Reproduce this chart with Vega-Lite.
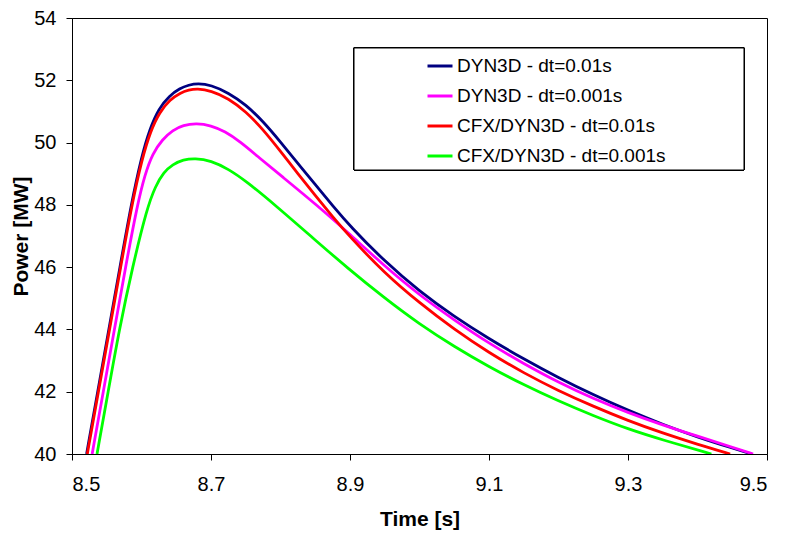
{
  "$schema": "https://vega.github.io/schema/vega-lite/v6.json",
  "width": 695,
  "height": 436,
  "autosize": "none",
  "padding": {"left": 72, "top": 18, "right": 19, "bottom": 82},
  "background": "white",
  "config": {
    "font": "Liberation Sans",
    "view": {"stroke": "black", "strokeWidth": 1},
    "axis": {
      "gridColor": "#404040",
      "gridOpacity": 1,
      "gridWidth": 1,
      "domainColor": "black",
      "tickColor": "black",
      "tickSize": 6,
      "labelColor": "black",
      "labelFont": "Liberation Sans",
      "labelFontSize": 20,
      "titleFont": "Liberation Sans",
      "titleFontSize": 21,
      "titleFontWeight": "bold",
      "titleColor": "black"
    }
  },
  "data": {
    "values": [
      {"series": "DYN3D - dt=0.01s", "t": 8.521, "P": 40},
      {"series": "DYN3D - dt=0.01s", "t": 8.537, "P": 42},
      {"series": "DYN3D - dt=0.01s", "t": 8.553, "P": 44},
      {"series": "DYN3D - dt=0.01s", "t": 8.569, "P": 46},
      {"series": "DYN3D - dt=0.01s", "t": 8.585, "P": 48},
      {"series": "DYN3D - dt=0.01s", "t": 8.6, "P": 49.55},
      {"series": "DYN3D - dt=0.01s", "t": 8.612, "P": 50.45},
      {"series": "DYN3D - dt=0.01s", "t": 8.625, "P": 51.1},
      {"series": "DYN3D - dt=0.01s", "t": 8.64, "P": 51.5},
      {"series": "DYN3D - dt=0.01s", "t": 8.655, "P": 51.74},
      {"series": "DYN3D - dt=0.01s", "t": 8.668, "P": 51.85},
      {"series": "DYN3D - dt=0.01s", "t": 8.681, "P": 51.9},
      {"series": "DYN3D - dt=0.01s", "t": 8.7, "P": 51.85},
      {"series": "DYN3D - dt=0.01s", "t": 8.725, "P": 51.6},
      {"series": "DYN3D - dt=0.01s", "t": 8.75, "P": 51.22},
      {"series": "DYN3D - dt=0.01s", "t": 8.775, "P": 50.68},
      {"series": "DYN3D - dt=0.01s", "t": 8.8, "P": 50.02},
      {"series": "DYN3D - dt=0.01s", "t": 8.825, "P": 49.33},
      {"series": "DYN3D - dt=0.01s", "t": 8.85, "P": 48.65},
      {"series": "DYN3D - dt=0.01s", "t": 8.876, "P": 47.95},
      {"series": "DYN3D - dt=0.01s", "t": 8.9, "P": 47.32},
      {"series": "DYN3D - dt=0.01s", "t": 8.95, "P": 46.18},
      {"series": "DYN3D - dt=0.01s", "t": 9.0, "P": 45.22},
      {"series": "DYN3D - dt=0.01s", "t": 9.05, "P": 44.41},
      {"series": "DYN3D - dt=0.01s", "t": 9.1, "P": 43.7},
      {"series": "DYN3D - dt=0.01s", "t": 9.15, "P": 43.05},
      {"series": "DYN3D - dt=0.01s", "t": 9.2, "P": 42.45},
      {"series": "DYN3D - dt=0.01s", "t": 9.25, "P": 41.9},
      {"series": "DYN3D - dt=0.01s", "t": 9.3, "P": 41.4},
      {"series": "DYN3D - dt=0.01s", "t": 9.35, "P": 40.95},
      {"series": "DYN3D - dt=0.01s", "t": 9.4, "P": 40.54},
      {"series": "DYN3D - dt=0.01s", "t": 9.45, "P": 40.19},
      {"series": "DYN3D - dt=0.01s", "t": 9.478, "P": 40},

      {"series": "DYN3D - dt=0.001s", "t": 8.529, "P": 40},
      {"series": "DYN3D - dt=0.001s", "t": 8.545, "P": 42},
      {"series": "DYN3D - dt=0.001s", "t": 8.561, "P": 44},
      {"series": "DYN3D - dt=0.001s", "t": 8.577, "P": 46},
      {"series": "DYN3D - dt=0.001s", "t": 8.594, "P": 48},
      {"series": "DYN3D - dt=0.001s", "t": 8.605, "P": 48.98},
      {"series": "DYN3D - dt=0.001s", "t": 8.616, "P": 49.65},
      {"series": "DYN3D - dt=0.001s", "t": 8.63, "P": 50.1},
      {"series": "DYN3D - dt=0.001s", "t": 8.645, "P": 50.4},
      {"series": "DYN3D - dt=0.001s", "t": 8.66, "P": 50.56},
      {"series": "DYN3D - dt=0.001s", "t": 8.679, "P": 50.62},
      {"series": "DYN3D - dt=0.001s", "t": 8.7, "P": 50.55},
      {"series": "DYN3D - dt=0.001s", "t": 8.72, "P": 50.36},
      {"series": "DYN3D - dt=0.001s", "t": 8.742, "P": 50.03},
      {"series": "DYN3D - dt=0.001s", "t": 8.77, "P": 49.5},
      {"series": "DYN3D - dt=0.001s", "t": 8.8, "P": 48.95},
      {"series": "DYN3D - dt=0.001s", "t": 8.853, "P": 47.98},
      {"series": "DYN3D - dt=0.001s", "t": 8.9, "P": 47.05},
      {"series": "DYN3D - dt=0.001s", "t": 8.95, "P": 46.03},
      {"series": "DYN3D - dt=0.001s", "t": 9.0, "P": 45.1},
      {"series": "DYN3D - dt=0.001s", "t": 9.05, "P": 44.3},
      {"series": "DYN3D - dt=0.001s", "t": 9.1, "P": 43.55},
      {"series": "DYN3D - dt=0.001s", "t": 9.15, "P": 42.9},
      {"series": "DYN3D - dt=0.001s", "t": 9.2, "P": 42.3},
      {"series": "DYN3D - dt=0.001s", "t": 9.25, "P": 41.78},
      {"series": "DYN3D - dt=0.001s", "t": 9.3, "P": 41.33},
      {"series": "DYN3D - dt=0.001s", "t": 9.35, "P": 40.93},
      {"series": "DYN3D - dt=0.001s", "t": 9.4, "P": 40.57},
      {"series": "DYN3D - dt=0.001s", "t": 9.45, "P": 40.22},
      {"series": "DYN3D - dt=0.001s", "t": 9.48, "P": 40},

      {"series": "CFX/DYN3D - dt=0.01s", "t": 8.522, "P": 40},
      {"series": "CFX/DYN3D - dt=0.01s", "t": 8.538, "P": 42},
      {"series": "CFX/DYN3D - dt=0.01s", "t": 8.554, "P": 44},
      {"series": "CFX/DYN3D - dt=0.01s", "t": 8.57, "P": 46},
      {"series": "CFX/DYN3D - dt=0.01s", "t": 8.586, "P": 48},
      {"series": "CFX/DYN3D - dt=0.01s", "t": 8.601, "P": 49.5},
      {"series": "CFX/DYN3D - dt=0.01s", "t": 8.613, "P": 50.37},
      {"series": "CFX/DYN3D - dt=0.01s", "t": 8.626, "P": 50.98},
      {"series": "CFX/DYN3D - dt=0.01s", "t": 8.641, "P": 51.38},
      {"series": "CFX/DYN3D - dt=0.01s", "t": 8.656, "P": 51.6},
      {"series": "CFX/DYN3D - dt=0.01s", "t": 8.668, "P": 51.69},
      {"series": "CFX/DYN3D - dt=0.01s", "t": 8.68, "P": 51.73},
      {"series": "CFX/DYN3D - dt=0.01s", "t": 8.7, "P": 51.67},
      {"series": "CFX/DYN3D - dt=0.01s", "t": 8.725, "P": 51.42},
      {"series": "CFX/DYN3D - dt=0.01s", "t": 8.75, "P": 51.0},
      {"series": "CFX/DYN3D - dt=0.01s", "t": 8.775, "P": 50.42},
      {"series": "CFX/DYN3D - dt=0.01s", "t": 8.8, "P": 49.72},
      {"series": "CFX/DYN3D - dt=0.01s", "t": 8.825, "P": 49.0},
      {"series": "CFX/DYN3D - dt=0.01s", "t": 8.85, "P": 48.3},
      {"series": "CFX/DYN3D - dt=0.01s", "t": 8.875, "P": 47.62},
      {"series": "CFX/DYN3D - dt=0.01s", "t": 8.9, "P": 46.97},
      {"series": "CFX/DYN3D - dt=0.01s", "t": 8.95, "P": 45.8},
      {"series": "CFX/DYN3D - dt=0.01s", "t": 9.0, "P": 44.85},
      {"series": "CFX/DYN3D - dt=0.01s", "t": 9.05, "P": 44.0},
      {"series": "CFX/DYN3D - dt=0.01s", "t": 9.1, "P": 43.25},
      {"series": "CFX/DYN3D - dt=0.01s", "t": 9.15, "P": 42.6},
      {"series": "CFX/DYN3D - dt=0.01s", "t": 9.2, "P": 42.03},
      {"series": "CFX/DYN3D - dt=0.01s", "t": 9.25, "P": 41.53},
      {"series": "CFX/DYN3D - dt=0.01s", "t": 9.3, "P": 41.07},
      {"series": "CFX/DYN3D - dt=0.01s", "t": 9.35, "P": 40.67},
      {"series": "CFX/DYN3D - dt=0.01s", "t": 9.4, "P": 40.31},
      {"series": "CFX/DYN3D - dt=0.01s", "t": 9.447, "P": 40},

      {"series": "CFX/DYN3D - dt=0.001s", "t": 8.536, "P": 40},
      {"series": "CFX/DYN3D - dt=0.001s", "t": 8.552, "P": 42},
      {"series": "CFX/DYN3D - dt=0.001s", "t": 8.568, "P": 44},
      {"series": "CFX/DYN3D - dt=0.001s", "t": 8.587, "P": 46},
      {"series": "CFX/DYN3D - dt=0.001s", "t": 8.608, "P": 47.9},
      {"series": "CFX/DYN3D - dt=0.001s", "t": 8.62, "P": 48.6},
      {"series": "CFX/DYN3D - dt=0.001s", "t": 8.632, "P": 49.05},
      {"series": "CFX/DYN3D - dt=0.001s", "t": 8.645, "P": 49.3},
      {"series": "CFX/DYN3D - dt=0.001s", "t": 8.66, "P": 49.45},
      {"series": "CFX/DYN3D - dt=0.001s", "t": 8.677, "P": 49.5},
      {"series": "CFX/DYN3D - dt=0.001s", "t": 8.7, "P": 49.42},
      {"series": "CFX/DYN3D - dt=0.001s", "t": 8.725, "P": 49.15},
      {"series": "CFX/DYN3D - dt=0.001s", "t": 8.75, "P": 48.77},
      {"series": "CFX/DYN3D - dt=0.001s", "t": 8.792, "P": 48.0},
      {"series": "CFX/DYN3D - dt=0.001s", "t": 8.85, "P": 46.87},
      {"series": "CFX/DYN3D - dt=0.001s", "t": 8.895, "P": 46.0},
      {"series": "CFX/DYN3D - dt=0.001s", "t": 8.95, "P": 45.0},
      {"series": "CFX/DYN3D - dt=0.001s", "t": 9.0, "P": 44.17},
      {"series": "CFX/DYN3D - dt=0.001s", "t": 9.05, "P": 43.45},
      {"series": "CFX/DYN3D - dt=0.001s", "t": 9.1, "P": 42.8},
      {"series": "CFX/DYN3D - dt=0.001s", "t": 9.15, "P": 42.22},
      {"series": "CFX/DYN3D - dt=0.001s", "t": 9.2, "P": 41.7},
      {"series": "CFX/DYN3D - dt=0.001s", "t": 9.25, "P": 41.23},
      {"series": "CFX/DYN3D - dt=0.001s", "t": 9.3, "P": 40.8},
      {"series": "CFX/DYN3D - dt=0.001s", "t": 9.35, "P": 40.45},
      {"series": "CFX/DYN3D - dt=0.001s", "t": 9.42, "P": 40}
    ]
  },
  "layer": [
    {
      "mark": {"type": "rect", "fill": "white", "stroke": "black", "strokeWidth": 1},
      "encoding": {
        "x": {"datum": 8.9058, "type": "quantitative"},
        "x2": {"datum": 9.4669},
        "y": {"datum": 53.037, "type": "quantitative"},
        "y2": {"datum": 49.119}
      }
    },
    {
      "mark": {"type": "line", "interpolate": "basis", "strokeWidth": 2.8, "clip": true},
      "encoding": {
        "x": {
          "field": "t",
          "type": "quantitative",
          "title": "Time [s]",
          "scale": {"domain": [8.5, 9.5], "nice": false, "zero": false},
          "axis": {"values": [8.5, 8.7, 8.9, 9.1, 9.3, 9.5], "format": ".1f", "labelPadding": 14, "titlePadding": 14}
        },
        "y": {
          "field": "P",
          "type": "quantitative",
          "title": "Power [MW]",
          "scale": {"domain": [40, 54], "nice": false, "zero": false},
          "axis": {"values": [40, 42, 44, 46, 48, 50, 52, 54], "labelPadding": 10, "titlePadding": 2}
        },
        "color": {
          "field": "series",
          "type": "nominal",
          "sort": null,
          "scale": {
            "domain": ["DYN3D - dt=0.01s", "DYN3D - dt=0.001s", "CFX/DYN3D - dt=0.01s", "CFX/DYN3D - dt=0.001s"],
            "range": ["#000080", "#FF00FF", "#FF0000", "#00FF00"]
          },
          "legend": {
            "orient": "none",
            "legendX": 282,
            "legendY": 30,
            "title": null,
            "padding": 4,
            "symbolType": "stroke",
            "symbolSize": 625,
            "symbolStrokeWidth": 3,
            "symbolOffset": 68,
            "labelOffset": 3,
            "labelFont": "Liberation Sans",
            "labelFontSize": 19,
            "labelColor": "black",
            "labelLimit": 500,
            "rowPadding": 6
          }
        }
      }
    }
  ]
}
